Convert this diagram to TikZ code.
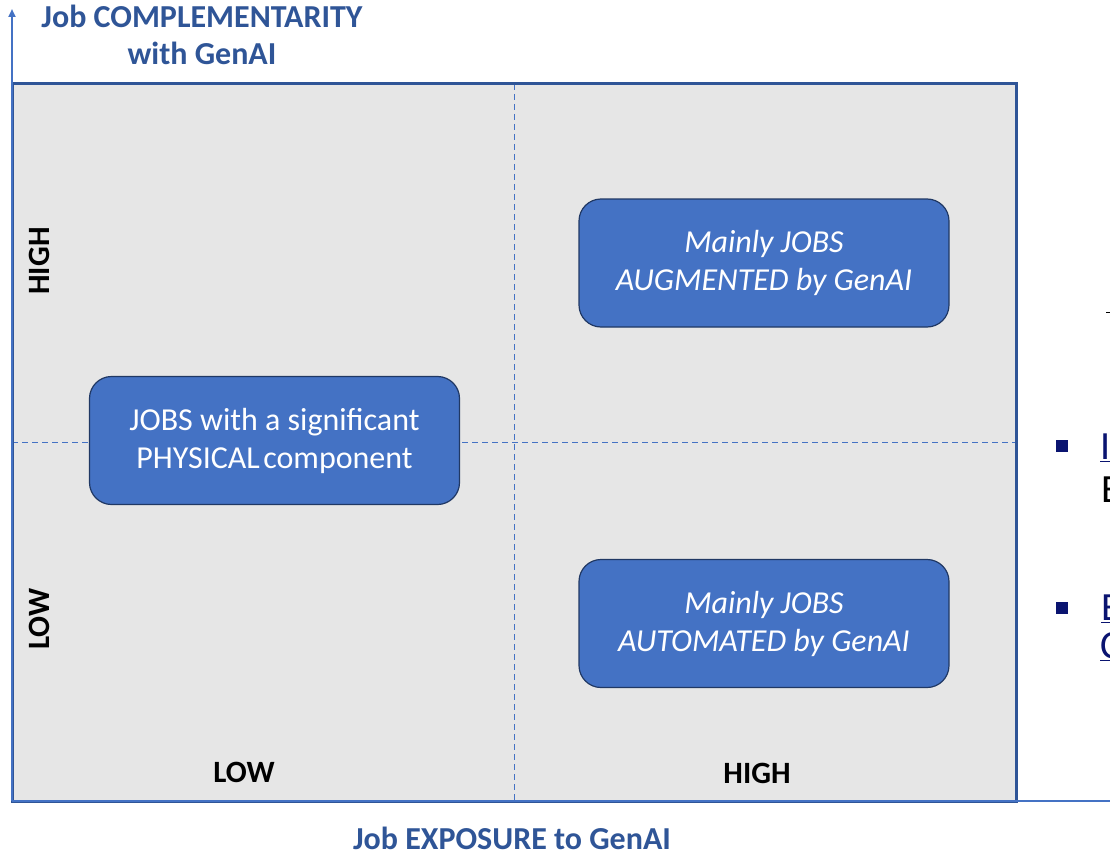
\documentclass[tikz,border=0pt]{standalone}
\usepackage{fontspec}
\setmainfont{Carlito}
\usetikzlibrary{arrows.meta}
\definecolor{darkblue}{HTML}{2F5597}
\definecolor{midblue}{HTML}{4472C4}
\definecolor{panelgray}{HTML}{E6E6E6}
\definecolor{nodeedge}{HTML}{203864}
\definecolor{navy}{HTML}{0A1470}
\tikzset{
  panel/.style={draw=darkblue, line width=3pt, fill=panelgray},
  axisline/.style={draw=midblue, line width=2.4pt},
  divider/.style={draw=midblue, line width=0.7pt, dash pattern=on 6pt off 4pt},
  jobbox/.style={draw=nodeedge, line width=1.2pt, fill=midblue, rounded corners=22pt,
    minimum width=370pt, minimum height=128pt, text=white, align=center,
    font=\fontsize{32}{38}\selectfont},
  axistitle/.style={text=darkblue, font=\bfseries\fontsize{32}{37}\selectfont, align=center, inner sep=0pt},
  levellabel/.style={text=black, font=\bfseries\fontsize{31}{34}\selectfont},
  clipped/.style={font=\fontsize{40}{44}\selectfont, anchor=west, inner sep=0pt},
}
\begin{document}
\begin{tikzpicture}[x=1pt, y=-1pt]
\useasboundingbox (0,0) rectangle (1110,853);
\clip (0,0) rectangle (1110,853);
% panel
\fill[panelgray] (12,84) rectangle (1016,801);
% dividers
\draw[divider] (514,84) -- (514,801);
\draw[divider] (12,442) -- (1016,442);
\draw[draw=darkblue, line width=3pt] (12,84) rectangle (1016,801);
% axes
\coordinate (origin) at (12,801);
\coordinate (ytip) at (12,9);
\coordinate (xend) at (1112,801);
\draw[axisline, -{Triangle[width=7pt,length=8pt]}] (origin) -- (ytip);
\draw[axisline] (origin) -- (xend);
% boxes
\node[jobbox] (aug) at (764,263) {\itshape Mainly JOBS\\\itshape AUGMENTED by GenAI};
\node[jobbox] (phys) at (274.5,440.5) {JOBS with a significant\\PHYSICAL\hspace{-0.12em} component};
\node[jobbox] (auto) at (764,623.5) {\itshape Mainly JOBS\\\itshape AUTOMATED by GenAI};
% titles
\node[axistitle] (ytitle) at (202,35) {Job COMPLEMENTARITY\\with GenAI};
\node[axistitle, anchor=base] (xtitle) at (512,849) {Job EXPOSURE to GenAI};
% level labels
\node[levellabel, rotate=90] (yhigh) at (39,261) {HIGH};
\node[levellabel, rotate=90] (ylow) at (39,619) {LOW};
\node[levellabel] (xlow) at (244,772) {LOW};
\node[levellabel] (xhigh) at (757,773) {HIGH};
% clipped fragments at right edge
\draw[black, line width=1pt] (1106,312) -- (1112,312);
\fill[navy] (1056,440) rectangle (1068,452);
\fill[navy] (1056,602) rectangle (1068,614);
\node[clipped, text=navy] (f1) at (1100,448) {\underline{I}};
\node[clipped, text=black] (f2) at (1101,490) {E};
\node[clipped, text=navy] (f3) at (1101,609) {\underline{E}};
\node[clipped, text=navy] (f4) at (1100,647) {\underline{C}};
\end{tikzpicture}
\end{document}
